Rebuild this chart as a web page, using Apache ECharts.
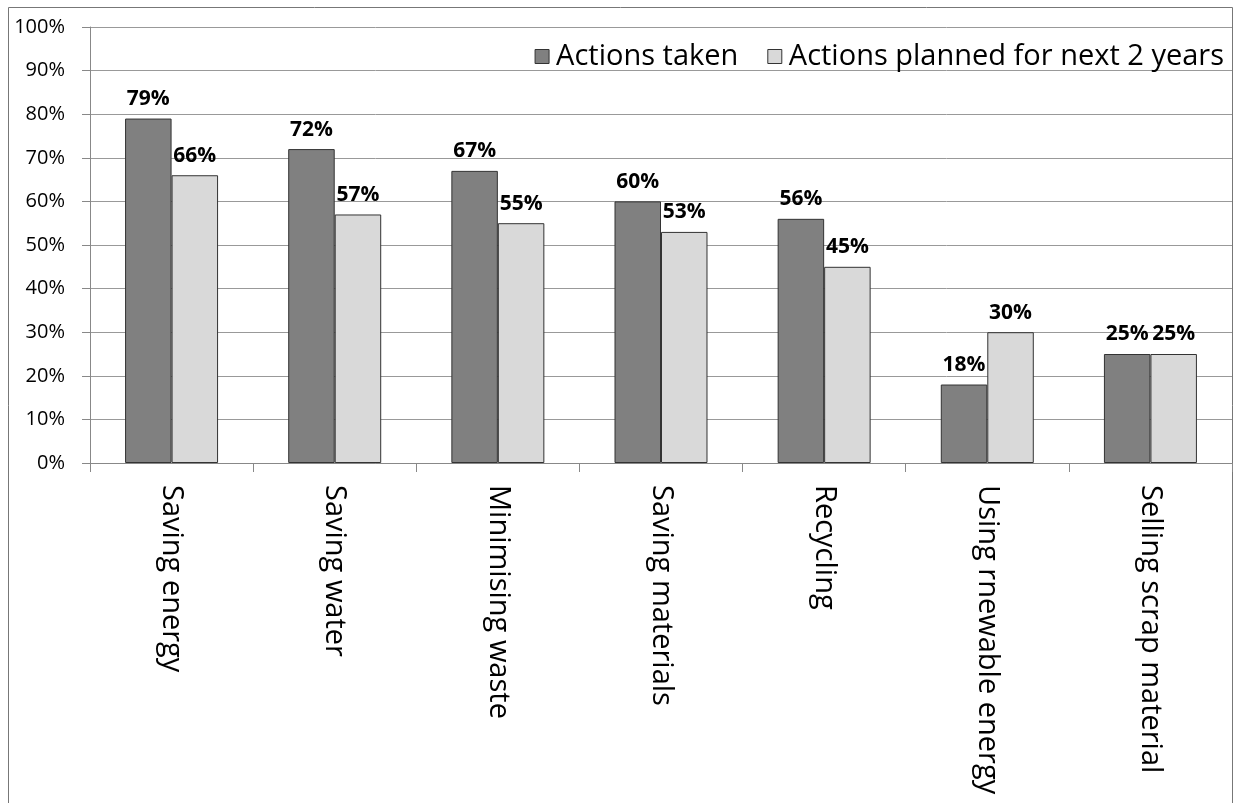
<!DOCTYPE html>
<html><head><meta charset="utf-8">
<script src="https://cdn.jsdelivr.net/npm/echarts@6/dist/echarts.min.js"></script>
<style>html,body{margin:0;padding:0;background:#fff}#c{width:1237px;height:803px}</style>
</head><body><div id="c"></div>
<script>
const categories = ["Saving energy","Saving water","Minimising waste","Saving materials","Recycling","Using rnewable energy","Selling scrap material"];
const actionsTaken = [79,72,67,60,56,18,25];
const actionsPlanned = [66,57,55,53,45,30,25];
const seriesNames = ["Actions taken","Actions planned for next 2 years"];
const chart = echarts.init(document.getElementById('c'));
const lbl = {show:true,position:'top',distance:9,formatter:'{c}%',fontFamily:'Open Sans',fontWeight:'bold',fontSize:21,color:'#000'};
chart.setOption({
  animation:false,
  graphic:[{type:'rect',shape:{x:8.5,y:7.5,width:1224,height:820},style:{fill:'none',stroke:'#777',lineWidth:1},silent:true}],
  legend:{right:8,top:37,itemWidth:14,itemHeight:14,itemGap:29,icon:'rect',
    textStyle:{fontFamily:'Open Sans',fontSize:29,color:'#000',padding:[0,0,0,2]},
    data:seriesNames.map(n=>({name:n,itemStyle:{borderColor:'#333',borderWidth:1}}))},
  grid:{left:90,right:5,top:27,bottom:340,containLabel:false},
  xAxis:{type:'category',data:categories,
    axisLine:{lineStyle:{color:'#888'}},
    axisTick:{show:true,length:9,lineStyle:{color:'#888'}},
    axisLabel:{rotate:-90,margin:22,fontFamily:'Open Sans',fontSize:29,color:'#000',interval:0}},
  yAxis:{type:'value',min:0,max:100,interval:10,
    axisLine:{show:true,lineStyle:{color:'#888'}},
    axisTick:{show:true,length:8,lineStyle:{color:'#888'}},
    splitLine:{lineStyle:{color:'#999'}},
    axisLabel:{formatter:'{value}%',margin:25,fontFamily:'Open Sans',fontSize:20,color:'#000'}},
  series:[
    {name:seriesNames[0],type:'bar',data:actionsTaken,barGap:'0%',barCategoryGap:'43%',
     itemStyle:{color:'#808080',borderColor:'#333',borderWidth:1},label:lbl},
    {name:seriesNames[1],type:'bar',data:actionsPlanned,
     itemStyle:{color:'#d9d9d9',borderColor:'#333',borderWidth:1},label:lbl}
  ]
});
</script></body></html>
